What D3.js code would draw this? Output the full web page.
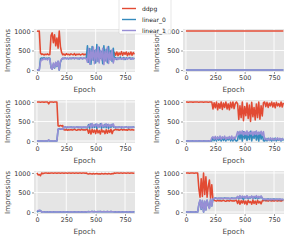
<!DOCTYPE html>
<html>
<head>
<meta charset="utf-8">
<script src="https://cdn.jsdelivr.net/npm/d3@7"></script>
<style>
body { margin: 0; background: #fff; }
svg { display: block; }
text { font-family: "DejaVu Sans", sans-serif; }
</style>
</head>
<body>
<div id="vis"></div>
<script>
const seriesNames = ['ddpg', 'linear_0', 'linear_1']
const seriesColors = ['#E24A33', '#348ABD', '#988ED5']
const xTicks = [0, 250, 500, 750]
const yTicks = [0, 500, 1000]
const lastEpoch = 830

// values read every 10 epochs (flat runs are given by their two ends)
const p1Ddpg = [1000,990,1000,430,400,410,385,405,395,415, 390,400,880,950,700,900,620,820,560,1000,
  600,450,390,410,380,420,395,405,385,415, 400,390,420,380,405,395,410,385,400,415,
  390,405,395,420,300,480,350,440,320,460, 380,300,470,350,420,310,450,370,430,330,
  460,360,400,340,440,380,450,380,460,370, 440,390,470,380,450,400,460,370,440,390, 460,380,450,400]
const p1Linear0 = [0,0,0,290,310,300,320,290,305,295, 310,300,60,30,150,50,190,90,220,0,
  200,270,300,290,310,295,300,285,305,290, 300,310,290,305,295,300,285,310,300,290,
  305,295,300,620,200,550,150,600,250,500, 180,650,220,580,300,480,160,620,240,530,
  190,600,280,500,220,560,280,320,270,310, 290,330,280,300,320,270,310,290,300,320, 280,310,290,300]
const p1Linear1 = [0,10,0,200,280,260,300,270,290,260, 300,280,60,20,180,60,200,100,230,0,
  220,280,310,290,300,285,305,290,300,310, 295,300,290,310,300,285,305,295,300,290,
  310,300,295,200,550,150,500,260,590,160, 520,220,600,180,500,260,560,140,480,220,
  590,170,460,250,520,180,300,280,310,270, 300,290,280,310,270,300,290,280,310,290, 300,280,290,300]

const p2Ddpg = [1000, 1000]
const p2Linear0 = [0, 0]
const p2Linear1 = [0, 0]

const p3Ddpg = [1000,1000,1000,995,1000,1000,990,1000,1000,1000, 950,1000,1000,1000,995,1000,1000,1000,390,380,
  400,385,395,290,280,300,275,290,285,295, 280,290,300,285,275,295,290,280,300,285,
  290,280,295,300,200,290,180,300,220,280, 190,310,210,270,180,300,230,260,190,290,
  200,280,220,300,190,270,280,300,285,295, 275,290,300,280,295,285,290,275,300,290, 285,295,280,290]
const p3Linear0 = [0,0,0,0,0,0,0,0,0,0, 20,0,0,0,0,0,0,0,300,320,
  300,310,305,350,360,340,355,345,350,360, 345,355,340,350,360,345,350,355,340,350,
  355,345,350,340,420,330,440,340,400,350, 430,320,410,360,440,330,390,350,430,340,
  420,330,400,350,430,360,350,340,355,345, 360,350,340,355,345,350,360,345,340,355, 350,345,360,350]
const p3Linear1 = [0,0,5,0,0,0,10,0,0,0, 30,0,0,0,5,0,0,0,310,300,
  315,305,300,360,355,345,365,350,360,345, 355,350,360,345,355,365,350,345,360,355,
  350,360,345,360,380,430,350,450,360,420, 380,440,350,420,370,450,360,410,380,440,
  360,430,370,420,380,440,355,365,350,360, 345,355,365,350,345,360,355,350,365,345, 355,360,350,355]

const p4Ddpg = [1000,1000,995,1000,1000,1000,990,1000,1000,1000, 1000,995,1000,1000,1000,990,1000,1000,1000,995,
  1000,1000,1000,820,980,850,1000,800,960,840, 1000,810,970,860,1000,820,950,800,990,850,
  1000,830,960,1000,950,550,900,600,1000,520, 880,650,970,580,920,500,990,620,860,540,
  950,600,1000,560,900,640,980,1000,880,990, 860,970,900,1000,870,980,850,990,900,960, 880,1000,870,980]
const p4Linear0 = [0,0,5,0,0,0,10,0,0,0, 0,5,0,0,0,10,0,0,0,5,
  0,0,0,90,10,75,0,100,20,80, 0,95,15,70,0,90,25,100,5,75,
  0,85,20,0,25,225,50,200,0,240, 60,175,15,210,40,250,5,190,70,230,
  25,200,0,220,50,180,10,0,60,5, 70,15,50,0,65,10,75,5,50,20, 60,0,65,10]
const p4Linear1 = [0,0,0,5,0,0,0,10,0,0, 5,0,0,0,10,0,0,0,5,0,
  5,0,80,110,50,120,40,100,60,130, 45,105,70,125,40,95,60,115,50,130,
  40,100,70,140,240,160,250,180,260,150, 240,170,260,150,230,180,250,140,240,170,
  260,160,230,180,250,140,240,40,70,30, 60,20,80,35,70,25,60,40,80,30, 70,20,60,40]

const p5Ddpg = [1000,950,960,930,1000,980,995,1000,1000,995, 1000,995,1000,1000,995,1000,1000,995,1000,1000,
  995,1000,1000,995,1000,1000,995,1000,1000,995, 1000,1000,995,1000,1000,995,1000,1000,995,1000,
  1000,995,1000,980,975,985,980,970,985,975, 980,985,975,980,970,985,980,975,985,980,
  975,985,980,970,985,980,1000,995,1000,1000, 995,1000,1000,995,1000,1000,995,1000,1000,995, 1000,1000,995,1000]
const p5Linear0 = [0,20,25,40,0,10,5,0,0,5, 0,5,0,0,5,0,0,5,0,0,
  5,0,0,5,0,0,5,0,0,5, 0,0,5,0,0,5,0,0,5,0,
  0,5,0,10,15,10,12,15,8,12, 10,8,15,10,15,8,10,12,8,10,
  15,8,10,15,8,10,0,5,0,0, 5,0,0,5,0,0,5,0,0,5, 0,0,5,0]
const p5Linear1 = [40,30,50,30,0,10,0,0,0,0, 5,0,0,5,0,0,0,5,0,0,
  0,5,0,0,5,0,0,0,5,0, 5,0,0,0,5,0,0,5,0,0,
  5,0,5,10,10,5,10,15,8,12, 10,8,10,12,15,5,10,10,8,10,
  12,8,10,15,8,10,0,0,5,0, 0,5,0,0,0,5,0,0,5,0, 0,5,0,0]

const p6Ddpg = [1000,1000,1000,995,1000,1000,1000,995,1000,1000, 1000,600,380,850,400,1000,450,900,380,650,
  820,350,700,320,300,290,280,300,285,295, 280,290,300,285,275,295,290,280,300,285,
  290,280,295,300,220,300,200,290,230,310, 210,280,190,300,240,270,200,310,220,280,
  200,300,230,270,210,290,290,300,285,295, 280,300,290,285,295,280,300,290,285,295, 290,280,300,290]
const p6Linear0 = [0,0,0,0,5,0,0,0,5,0, 0,190,300,70,290,0,270,60,300,170,
  100,320,160,330,340,360,350,345,355,340, 355,345,350,360,345,350,355,340,350,360,
  345,350,355,360,390,340,400,350,380,320, 390,360,400,340,370,360,400,340,390,350,
  390,340,370,360,400,350,320,330,315,325, 335,320,330,315,325,335,320,330,325,315, 330,320,315,325]
const p6Linear1 = [0,0,0,5,0,0,0,5,0,0, 0,200,310,80,300,0,280,50,310,180,
  90,330,150,340,350,345,355,340,350,360, 345,355,340,350,360,345,350,355,340,350,
  355,345,350,340,400,360,420,350,410,370, 400,350,420,360,390,370,410,350,400,380,
  420,360,400,370,410,360,330,320,335,325, 315,330,320,335,325,315,330,320,325,335, 320,330,325,315]

const panels = [
  [p1Ddpg, p1Linear0, p1Linear1], [p2Ddpg, p2Linear0, p2Linear1],
  [p3Ddpg, p3Linear0, p3Linear1], [p4Ddpg, p4Linear0, p4Linear1],
  [p5Ddpg, p5Linear0, p5Linear1], [p6Ddpg, p6Linear0, p6Linear1]
]

const width = 291, height = 240
const colLeft = [34, 183], panelW = 101
const rowTop = [29, 100, 171], panelH = 43

const svg = d3.select('#vis').append('svg')
  .attr('width', width)
  .attr('height', height)

const xScale = d3.scaleLinear().domain([-25, 835]).range([0, panelW])
const yScale = d3.scaleLinear().domain([-50, 1050]).range([panelH, 0])

panels.forEach((series, k) => {
  let col = k % 2, row = Math.floor(k / 2)
  let g = svg.append('g').attr('transform', `translate(${colLeft[col]},${rowTop[row]})`)

  g.append('rect')
    .attr('width', panelW).attr('height', panelH)
    .attr('fill', '#E5E5E5')

  // grid
  g.selectAll('.gx').data(xTicks).join('line')
    .attr('class', 'gx')
    .attr('x1', d => xScale(d)).attr('x2', d => xScale(d))
    .attr('y1', 0).attr('y2', panelH)
    .attr('stroke', '#fff').attr('stroke-width', 0.9)
  g.selectAll('.gy').data(yTicks).join('line')
    .attr('class', 'gy')
    .attr('x1', 0).attr('x2', panelW)
    .attr('y1', d => yScale(d)).attr('y2', d => yScale(d))
    .attr('stroke', '#fff').attr('stroke-width', 0.9)

  let clipId = 'clip' + k
  g.append('clipPath').attr('id', clipId)
    .append('rect').attr('width', panelW).attr('height', panelH)

  series.forEach((vals, s) => {
    let step = lastEpoch / (vals.length - 1)
    let line = d3.line()
      .x((d, i) => xScale(i * step))
      .y(d => yScale(d))
    g.append('path')
      .attr('d', line(vals))
      .attr('fill', 'none')
      .attr('stroke', seriesColors[s])
      .attr('stroke-width', 1.55)
      .attr('stroke-linejoin', 'round')
      .attr('clip-path', `url(#${clipId})`)
  })

  let xAxis = d3.axisBottom(xScale).tickValues(xTicks).tickFormat(d3.format('d'))
    .tickSize(2).tickPadding(1.5)
  let gx = g.append('g').attr('transform', `translate(0,${panelH})`).call(xAxis)
  let yAxis = d3.axisLeft(yScale).tickValues(yTicks).tickFormat(d3.format('d'))
    .tickSize(2).tickPadding(1.5)
  let gy = g.append('g').call(yAxis)
  for (let a of [gx, gy]) {
    a.select('.domain').remove()
    a.selectAll('line').attr('stroke', '#555').attr('stroke-width', 0.6)
    a.selectAll('text').attr('fill', '#333').attr('font-size', 6.4)
      .attr('font-family', '"DejaVu Sans", sans-serif')
  }

  g.append('text')
    .attr('x', panelW / 2).attr('y', panelH + 19.5)
    .attr('text-anchor', 'middle')
    .attr('font-size', 7.2).attr('fill', '#444')
    .text('Epoch')
  g.append('text')
    .attr('transform', `translate(-24.5,${panelH / 2}) rotate(-90)`)
    .attr('text-anchor', 'middle')
    .attr('font-size', 7.2).attr('fill', '#444')
    .text('Impressions')
})

// legend
let legend = svg.append('g').attr('transform', 'translate(119,-1)')
legend.append('rect')
  .attr('width', 52).attr('height', 35).attr('rx', 1.5)
  .attr('fill', '#fff').attr('fill-opacity', 0.8)
  .attr('stroke', '#ccc').attr('stroke-width', 0.5)
seriesNames.forEach((name, i) => {
  let y = 9.5 + i * 11
  legend.append('line')
    .attr('x1', 3).attr('x2', 17).attr('y1', y).attr('y2', y)
    .attr('stroke', seriesColors[i]).attr('stroke-width', 1.4)
  legend.append('text')
    .attr('x', 23).attr('y', y + 2.1)
    .attr('font-size', 6).attr('fill', '#222')
    .text(name)
})
</script>
</body>
</html>
